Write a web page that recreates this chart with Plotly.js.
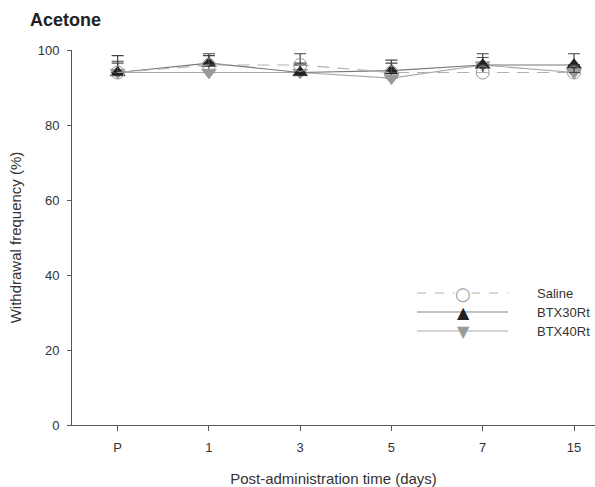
<!DOCTYPE html>
<html>
<head>
<meta charset="utf-8">
<script src="https://cdn.plot.ly/plotly-3.0.1.min.js"></script>
<style>html,body{margin:0;padding:0;background:#fff;}#chart{width:595px;height:487px;}</style>
</head>
<body>
<div id="chart"></div>
<script>
var days = ["P", "1", "3", "5", "7", "15"];
var salineMean = [94, 96, 96, 94, 94, 94];
var salineErr  = [4.5, 2.5, 3, 2.5, 2, 2];
var btx30Mean  = [94, 96.5, 94, 94.5, 96, 96];
var btx30Err   = [3, 2.5, 2.5, 2.8, 3, 3];
var btx40Mean  = [94, 94, 94, 92.5, 96, 94];
var btx40Err   = [2.5, 2, 2, 2, 2, 2];
var seriesNames = ["Saline", "BTX30Rt", "BTX40Rt"];

var F = "Liberation Sans, Arial, Helvetica, sans-serif";
function errObj(arr, col) {
  return {type: "data", symmetric: false, array: arr, arrayminus: arr.map(function(){return 0;}),
          color: col, thickness: 1.2, width: 6};
}
var traces = [
  {x: days, y: btx40Mean, name: seriesNames[2], mode: "lines+markers",
   line: {color: "#a8a8a8", width: 1.2},
   marker: {symbol: "triangle-down", size: 13, color: "#9a9a9a", line: {color: "#8a8a8a", width: 0.5}},
   error_y: errObj(btx40Err, "#555")},
  {x: days, y: btx30Mean, name: seriesNames[1], mode: "lines+markers",
   line: {color: "#777", width: 1.2},
   marker: {symbol: "triangle-up", size: 13, color: "#222", line: {color: "#222", width: 0.5}},
   error_y: errObj(btx30Err, "#444")},
  {x: days, y: salineMean, name: seriesNames[0], mode: "lines+markers",
   line: {color: "#b0b0b0", width: 1.2, dash: "12px,8px"},
   marker: {symbol: "circle-open", size: 13, color: "#999", line: {color: "#999", width: 1}},
   error_y: errObj(salineErr, "#444")}
];

function px(x) { return (x - 72) / 523; }
function py(y) { return (425 - y) / 375; }
var legRows = [293, 312, 331];
var legStyles = [
  {color: "#b0b0b0", dash: "dash", glyph: "○", gcol: "#999", gsize: 18},
  {color: "#888", dash: "solid", glyph: "▲", gcol: "#222", gsize: 16},
  {color: "#aaa", dash: "solid", glyph: "▼", gcol: "#9a9a9a", gsize: 16}
];
var shapes = [], annotations = [];
legRows.forEach(function(r, i) {
  var s = legStyles[i];
  shapes.push({type: "line", xref: "paper", yref: "paper", x0: px(417), x1: px(508), y0: py(r), y1: py(r),
               line: {color: s.color, width: 1.2, dash: s.dash}});
  annotations.push({xref: "paper", yref: "paper", x: px(463), y: py(r), text: s.glyph, showarrow: false,
                    font: {family: "DejaVu Sans", size: s.gsize, color: s.gcol}, bgcolor: i === 0 ? "#fff" : "rgba(0,0,0,0)",
                    xanchor: "center", yanchor: "middle", borderpad: 0});
  annotations.push({xref: "paper", yref: "paper", x: px(535), y: py(r), text: seriesNames[i], showarrow: false,
                    font: {family: F, size: 13, color: "#333"}, xanchor: "left", yanchor: "middle"});
});

var layout = {
  width: 595, height: 487,
  margin: {l: 72, r: 0, t: 50, b: 62},
  paper_bgcolor: "#fff", plot_bgcolor: "#fff",
  showlegend: false,
  font: {family: F, color: "#333", size: 13},
  title: {text: "<b>Acetone</b>", x: 30/595, xanchor: "left", y: 1 - 20/487, yanchor: "middle",
          font: {family: F, size: 18, color: "#222"}},
  xaxis: {type: "category", range: [-0.5, 5.23], showgrid: false, zeroline: false,
          showline: true, linecolor: "#555", linewidth: 1,
          ticks: "outside", ticklen: 5, tickcolor: "#555", ticklabelstandoff: 5,
          tickfont: {size: 13, color: "#333"},
          title: {text: "Post-administration time (days)", font: {size: 15, color: "#333"}, standoff: 24}},
  yaxis: {range: [0, 100], showgrid: false, zeroline: false, tickvals: [0, 20, 40, 60, 80, 100],
          showline: true, linecolor: "#555", linewidth: 1,
          ticks: "outside", ticklen: 4, tickcolor: "#555", ticklabelstandoff: 5,
          tickfont: {size: 13, color: "#333"},
          title: {text: "Withdrawal frequency (%)", font: {size: 15, color: "#333"}, standoff: 12}},
  shapes: shapes,
  annotations: annotations
};
Plotly.newPlot("chart", traces, layout, {displayModeBar: false, staticPlot: true});
</script>
</body>
</html>
